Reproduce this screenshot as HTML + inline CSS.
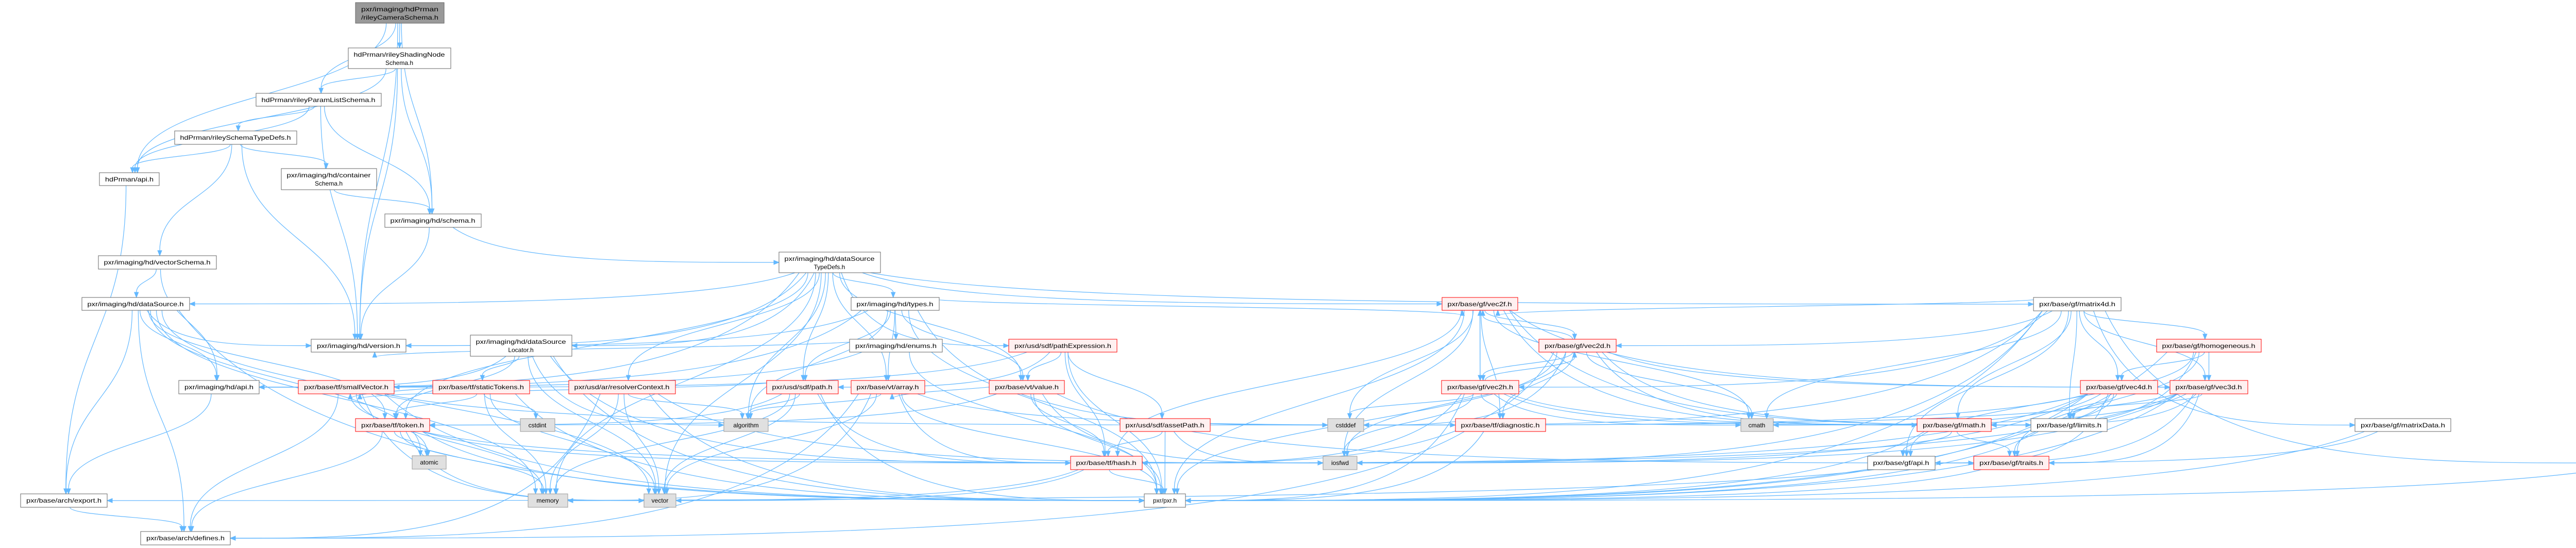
<!DOCTYPE html>
<html><head><meta charset="utf-8">
<style>
html,body{margin:0;padding:0;background:#fff;}
svg{display:block;}
text{font-family:"Liberation Sans",sans-serif;font-size:12px;fill:#000;}
</style></head>
<body>
<svg id="g" width="5239" height="1063" viewBox="0 0 5239 1063" xmlns="http://www.w3.org/2000/svg">
<rect width="5239" height="1063" fill="#fff"/>
<g id="edges" fill="none" stroke="#63b8ff" stroke-width="1.2"></g>
<g id="arrows" fill="#63b8ff" stroke="#63b8ff"></g>
<g id="nodes">
<rect x="690" y="5" width="172" height="40" fill="#999" stroke="#666"/>
<text x="776" y="22" text-anchor="middle" textLength="150" lengthAdjust="spacingAndGlyphs">pxr/imaging/hdPrman</text>
<text x="776" y="38" text-anchor="middle" textLength="150" lengthAdjust="spacingAndGlyphs">/rileyCameraSchema.h</text>

<rect x="676" y="93" width="199" height="40" fill="#fff" stroke="#666"/>
<text x="775" y="110" text-anchor="middle" textLength="177" lengthAdjust="spacingAndGlyphs">hdPrman/rileyShadingNode</text>
<text x="775" y="126" text-anchor="middle">Schema.h</text>

<rect x="497" y="181" width="243" height="25" fill="#fff" stroke="#666"/>
<text x="618" y="198" text-anchor="middle" textLength="221" lengthAdjust="spacingAndGlyphs">hdPrman/rileyParamListSchema.h</text>

<rect x="339" y="254" width="237" height="26" fill="#fff" stroke="#666"/>
<text x="457" y="271" text-anchor="middle" textLength="215" lengthAdjust="spacingAndGlyphs">hdPrman/rileySchemaTypeDefs.h</text>

<rect x="193" y="335" width="116" height="25" fill="#fff" stroke="#666"/>
<text x="251" y="352" text-anchor="middle" textLength="94" lengthAdjust="spacingAndGlyphs">hdPrman/api.h</text>

<rect x="546" y="327" width="185" height="41" fill="#fff" stroke="#666"/>
<text x="638" y="344" text-anchor="middle" textLength="163" lengthAdjust="spacingAndGlyphs">pxr/imaging/hd/container</text>
<text x="638" y="360" text-anchor="middle">Schema.h</text>

<rect x="747" y="415" width="187" height="26" fill="#fff" stroke="#666"/>
<text x="840" y="432" text-anchor="middle" textLength="165" lengthAdjust="spacingAndGlyphs">pxr/imaging/hd/schema.h</text>

<rect x="191" y="496" width="229" height="26" fill="#fff" stroke="#666"/>
<text x="305" y="513" text-anchor="middle" textLength="207" lengthAdjust="spacingAndGlyphs">pxr/imaging/hd/vectorSchema.h</text>

<rect x="1512" y="489" width="197" height="40" fill="#fff" stroke="#666"/>
<text x="1610" y="506" text-anchor="middle" textLength="175" lengthAdjust="spacingAndGlyphs">pxr/imaging/hd/dataSource</text>
<text x="1610" y="522" text-anchor="middle">TypeDefs.h</text>

<rect x="159" y="577" width="209" height="25" fill="#fff" stroke="#666"/>
<text x="263" y="594" text-anchor="middle" textLength="187" lengthAdjust="spacingAndGlyphs">pxr/imaging/hd/dataSource.h</text>

<rect x="1652" y="577" width="171" height="25" fill="#fff" stroke="#666"/>
<text x="1737" y="594" text-anchor="middle" textLength="149" lengthAdjust="spacingAndGlyphs">pxr/imaging/hd/types.h</text>

<rect x="2799" y="577" width="147" height="25" fill="#fff0f0" stroke="#f00"/>
<text x="2872" y="594" text-anchor="middle" textLength="125" lengthAdjust="spacingAndGlyphs">pxr/base/gf/vec2f.h</text>

<rect x="3947" y="577" width="170" height="26" fill="#fff" stroke="#666"/>
<text x="4032" y="594" text-anchor="middle" textLength="148" lengthAdjust="spacingAndGlyphs">pxr/base/gf/matrix4d.h</text>

<rect x="604" y="658" width="184" height="25" fill="#fff" stroke="#666"/>
<text x="696" y="675" text-anchor="middle" textLength="162" lengthAdjust="spacingAndGlyphs">pxr/imaging/hd/version.h</text>

<rect x="913" y="650" width="197" height="41" fill="#fff" stroke="#666"/>
<text x="1011" y="667" text-anchor="middle" textLength="175" lengthAdjust="spacingAndGlyphs">pxr/imaging/hd/dataSource</text>
<text x="1011" y="683" text-anchor="middle">Locator.h</text>

<rect x="1649" y="658" width="180" height="25" fill="#fff" stroke="#666"/>
<text x="1739" y="675" text-anchor="middle" textLength="158" lengthAdjust="spacingAndGlyphs">pxr/imaging/hd/enums.h</text>

<rect x="1958" y="658" width="210" height="25" fill="#fff0f0" stroke="#f00"/>
<text x="2063" y="675" text-anchor="middle" textLength="188" lengthAdjust="spacingAndGlyphs">pxr/usd/sdf/pathExpression.h</text>

<rect x="2987" y="658" width="150" height="25" fill="#fff0f0" stroke="#f00"/>
<text x="3062" y="675" text-anchor="middle" textLength="128" lengthAdjust="spacingAndGlyphs">pxr/base/gf/vec2d.h</text>

<rect x="4186" y="658" width="203" height="25" fill="#fff0f0" stroke="#f00"/>
<text x="4287" y="675" text-anchor="middle" textLength="181" lengthAdjust="spacingAndGlyphs">pxr/base/gf/homogeneous.h</text>

<rect x="347" y="738" width="156" height="26" fill="#fff" stroke="#666"/>
<text x="425" y="755" text-anchor="middle" textLength="134" lengthAdjust="spacingAndGlyphs">pxr/imaging/hd/api.h</text>

<rect x="579" y="738" width="186" height="26" fill="#fff0f0" stroke="#f00"/>
<text x="672" y="755" text-anchor="middle" textLength="164" lengthAdjust="spacingAndGlyphs">pxr/base/tf/smallVector.h</text>

<rect x="840" y="738" width="188" height="26" fill="#fff0f0" stroke="#f00"/>
<text x="934" y="755" text-anchor="middle" textLength="166" lengthAdjust="spacingAndGlyphs">pxr/base/tf/staticTokens.h</text>

<rect x="1104" y="738" width="207" height="26" fill="#fff0f0" stroke="#f00"/>
<text x="1207" y="755" text-anchor="middle" textLength="185" lengthAdjust="spacingAndGlyphs">pxr/usd/ar/resolverContext.h</text>

<rect x="1488" y="738" width="139" height="26" fill="#fff0f0" stroke="#f00"/>
<text x="1557" y="755" text-anchor="middle" textLength="117" lengthAdjust="spacingAndGlyphs">pxr/usd/sdf/path.h</text>

<rect x="1652" y="738" width="143" height="26" fill="#fff0f0" stroke="#f00"/>
<text x="1723" y="755" text-anchor="middle" textLength="121" lengthAdjust="spacingAndGlyphs">pxr/base/vt/array.h</text>

<rect x="1920" y="738" width="146" height="26" fill="#fff0f0" stroke="#f00"/>
<text x="1993" y="755" text-anchor="middle" textLength="124" lengthAdjust="spacingAndGlyphs">pxr/base/vt/value.h</text>

<rect x="2798" y="738" width="150" height="26" fill="#fff0f0" stroke="#f00"/>
<text x="2873" y="755" text-anchor="middle" textLength="128" lengthAdjust="spacingAndGlyphs">pxr/base/gf/vec2h.h</text>

<rect x="4038" y="738" width="150" height="26" fill="#fff0f0" stroke="#f00"/>
<text x="4113" y="755" text-anchor="middle" textLength="128" lengthAdjust="spacingAndGlyphs">pxr/base/gf/vec4d.h</text>

<rect x="4212" y="738" width="151" height="26" fill="#fff0f0" stroke="#f00"/>
<text x="4287" y="755" text-anchor="middle" textLength="129" lengthAdjust="spacingAndGlyphs">pxr/base/gf/vec3d.h</text>

<rect x="690" y="812" width="144" height="25" fill="#fff0f0" stroke="#f00"/>
<text x="762" y="829" text-anchor="middle" textLength="122" lengthAdjust="spacingAndGlyphs">pxr/base/tf/token.h</text>

<rect x="1010" y="812" width="67" height="25" fill="#e0e0e0" stroke="#999"/>
<text x="1043" y="829" text-anchor="middle">cstdint</text>

<rect x="1405" y="812" width="86" height="25" fill="#e0e0e0" stroke="#999"/>
<text x="1448" y="829" text-anchor="middle">algorithm</text>

<rect x="2174" y="812" width="175" height="25" fill="#fff0f0" stroke="#f00"/>
<text x="2261" y="829" text-anchor="middle" textLength="153" lengthAdjust="spacingAndGlyphs">pxr/usd/sdf/assetPath.h</text>

<rect x="2577" y="812" width="70" height="25" fill="#e0e0e0" stroke="#999"/>
<text x="2612" y="829" text-anchor="middle">cstddef</text>

<rect x="2825" y="812" width="175" height="25" fill="#fff0f0" stroke="#f00"/>
<text x="2912" y="829" text-anchor="middle" textLength="153" lengthAdjust="spacingAndGlyphs">pxr/base/tf/diagnostic.h</text>

<rect x="3379" y="812" width="63" height="25" fill="#e0e0e0" stroke="#999"/>
<text x="3410" y="829" text-anchor="middle">cmath</text>

<rect x="3721" y="812" width="144" height="25" fill="#fff0f0" stroke="#f00"/>
<text x="3793" y="829" text-anchor="middle" textLength="122" lengthAdjust="spacingAndGlyphs">pxr/base/gf/math.h</text>

<rect x="3942" y="812" width="148" height="25" fill="#fff" stroke="#666"/>
<text x="4016" y="829" text-anchor="middle" textLength="126" lengthAdjust="spacingAndGlyphs">pxr/base/gf/limits.h</text>

<rect x="4571" y="812" width="186" height="25" fill="#fff" stroke="#666"/>
<text x="4664" y="829" text-anchor="middle" textLength="164" lengthAdjust="spacingAndGlyphs">pxr/base/gf/matrixData.h</text>

<rect x="800" y="884" width="66" height="26" fill="#e0e0e0" stroke="#999"/>
<text x="833" y="901" text-anchor="middle">atomic</text>

<rect x="2078" y="885" width="139" height="26" fill="#fff0f0" stroke="#f00"/>
<text x="2147" y="902" text-anchor="middle" textLength="117" lengthAdjust="spacingAndGlyphs">pxr/base/tf/hash.h</text>

<rect x="2568" y="885" width="66" height="26" fill="#e0e0e0" stroke="#999"/>
<text x="2601" y="902" text-anchor="middle">iosfwd</text>

<rect x="3625" y="885" width="131" height="26" fill="#fff" stroke="#666"/>
<text x="3690" y="902" text-anchor="middle" textLength="109" lengthAdjust="spacingAndGlyphs">pxr/base/gf/api.h</text>

<rect x="3831" y="885" width="146" height="26" fill="#fff0f0" stroke="#f00"/>
<text x="3904" y="902" text-anchor="middle" textLength="124" lengthAdjust="spacingAndGlyphs">pxr/base/gf/traits.h</text>

<rect x="5035" y="885" width="159" height="26" fill="#fff" stroke="#666"/>
<text x="5114" y="902" text-anchor="middle" textLength="137" lengthAdjust="spacingAndGlyphs">pxr/base/gf/declare.h</text>

<rect x="40" y="958" width="168" height="26" fill="#fff" stroke="#666"/>
<text x="124" y="975" text-anchor="middle" textLength="146" lengthAdjust="spacingAndGlyphs">pxr/base/arch/export.h</text>

<rect x="1025" y="958" width="77" height="26" fill="#e0e0e0" stroke="#999"/>
<text x="1063" y="975" text-anchor="middle">memory</text>

<rect x="1250" y="958" width="62" height="26" fill="#e0e0e0" stroke="#999"/>
<text x="1281" y="975" text-anchor="middle">vector</text>

<rect x="2221" y="958" width="80" height="26" fill="#fff" stroke="#666"/>
<text x="2261" y="975" text-anchor="middle">pxr/pxr.h</text>

<rect x="273" y="1031" width="174" height="26" fill="#fff" stroke="#666"/>
<text x="360" y="1048" text-anchor="middle" textLength="152" lengthAdjust="spacingAndGlyphs">pxr/base/arch/defines.h</text>
</g>
</svg>
<script>
var N={A:[690,5,172,40],B:[676,93,199,40],C:[497,181,243,25],D:[339,254,237,26],E:[193,335,116,25],F:[546,327,185,41],G:[747,415,187,26],H:[191,496,229,26],I:[1512,489,197,40],J:[159,577,209,25],K:[1652,577,171,25],L:[2799,577,147,25],M:[3947,577,170,26],N:[604,658,184,25],O:[913,650,197,41],P:[1649,658,180,25],Q:[1958,658,210,25],R:[2987,658,150,25],S:[4186,658,203,25],T:[347,738,156,26],U:[579,738,186,26],V:[840,738,188,26],W:[1104,738,207,26],X:[1488,738,139,26],Y:[1652,738,143,26],Z:[1920,738,146,26],a:[2798,738,150,26],b:[4038,738,150,26],c:[4212,738,151,26],d:[690,812,144,25],e:[1010,812,67,25],f:[1405,812,86,25],g:[2174,812,175,25],h:[2577,812,70,25],i:[2825,812,175,25],j:[3379,812,63,25],k:[3721,812,144,25],l:[3942,812,148,25],m:[4571,812,186,25],n:[800,884,66,26],o:[2078,885,139,26],p:[2568,885,66,26],q:[3625,885,131,26],r:[3831,885,146,26],s:[5035,885,159,26],t:[40,958,168,26],u:[1025,958,77,26],v:[1250,958,62,26],w:[2221,958,80,26],x:[273,1031,174,26]};
var E={A:"ECBGN",B:"ECGN",C:"EDGN",D:"EFHN",E:"t",F:"G",G:"IN",H:"JT",I:"JKLMOTQWXYZdNfuv",J:"tTdnuvwxN",K:"TNPXYZfhwL",L:"Raijklhpwoc",M:"LRabckmlqshpwjS",O:"TdVfvwo",P:"TNw",Q:"XZgoUw",R:"Laijklhpwoc",S:"kbcrwq",T:"t",U:"nxuvwh",V:"dUeuvw",W:"uvwxfp",X:"fuvwodU",Y:"fuvwoix",Z:"Ydrwop",a:"LRijklhpwo",b:"jklqrwhpo",c:"jklqrwhpo",d:"nwopuvx",g:"owp",i:"wx",k:"qrw",l:"w",m:"wq",o:"wvu",q:"t",r:"w",s:"w",t:"x"};
var ns="http://www.w3.org/2000/svg",eg=document.getElementById("edges"),ag=document.getElementById("arrows");
function cl(v,a){return Math.max(-a,Math.min(a,v));}
for(var s in E){for(var k=0;k<E[s].length;k++){var S=N[s],T=N[E[s][k]];
var sx0=S[0]+S[2]/2,tx0=T[0]+T[2]/2,sx,sy,tx,ty,d,ar;
sx=sx0+cl((tx0-sx0)*0.05,S[2]*0.4);tx=tx0+cl((sx0-tx0)*0.03,T[2]*0.35);
var gap=T[1]-(S[1]+S[3]);
if(gap>0 && Math.abs(tx0-sx0)>3*gap && Math.abs(tx0-sx0)>300){
 sy=S[1]+S[3];ty=T[1]+T[3]/2+cl((sy-ty)*0,5);
 var left=sx0<tx0; tx=left?T[0]:T[0]+T[2]; var ex=left?tx-10:tx+10;
 var dx=ex-sx;
 d="M"+sx+","+sy+" C"+(sx+dx*0.15)+","+(ty)+" "+(ex-dx*0.4)+","+ty+" "+ex+","+ty;
 ar=ex+","+(ty-4)+" "+ex+","+(ty+4)+" "+tx+","+ty;
}
else if(T[1]>S[1]+S[3]){sy=S[1]+S[3];ty=T[1];var dy=ty-10-sy;
d="M"+sx+","+sy+" C"+sx+","+(sy+dy*0.5)+" "+tx+","+(ty-10-dy*0.5)+" "+tx+","+(ty-10);
ar=(tx-4)+","+(ty-10)+" "+(tx+4)+","+(ty-10)+" "+tx+","+ty;}
else{sy=S[1];ty=T[1]+T[3];var dy=sy-ty-10;
d="M"+sx+","+sy+" C"+sx+","+(sy-dy*0.5)+" "+tx+","+(ty+10+dy*0.5)+" "+tx+","+(ty+10);
ar=(tx-4)+","+(ty+10)+" "+(tx+4)+","+(ty+10)+" "+tx+","+ty;}
var p=document.createElementNS(ns,"path");p.setAttribute("d",d);eg.appendChild(p);
var q=document.createElementNS(ns,"polygon");q.setAttribute("points",ar);ag.appendChild(q);}}
</script>
</body></html>
